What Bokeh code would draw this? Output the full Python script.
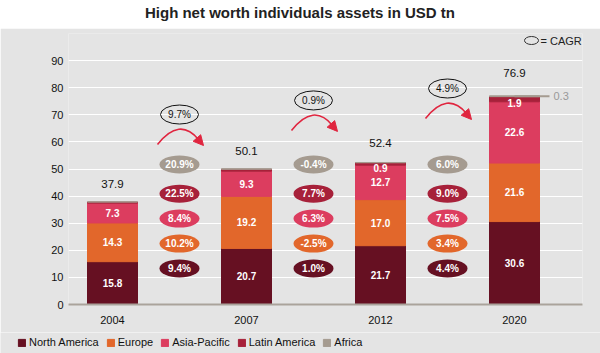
from bokeh.plotting import figure
from bokeh.models import ColumnDataSource, Range1d, FixedTicker, Div, Arrow, NormalHead
from bokeh.layouts import column
from bokeh.embed import file_html
from bokeh.resources import INLINE
from bokeh.core.properties import value

# ---------------- data ----------------
years = ["2004", "2007", "2012", "2020"]
north_america = [15.8, 20.7, 21.7, 30.6]
europe = [14.3, 19.2, 17.0, 21.6]
asia_pacific = [7.3, 9.3, 12.7, 22.6]
latin_america = [0.4, 0.7, 0.9, 1.9]
africa = [0.1, 0.2, 0.1, 0.3]
totals = [37.9, 50.1, 52.4, 76.9]
la_label_shown = [False, False, True, True]
af_label_shown = [False, False, False, True]

periods = ["2004-2007", "2007-2012", "2012-2020"]
cagr_total = [9.7, 0.9, 4.9]
cagr_north_america = [9.4, 1.0, 4.4]
cagr_europe = [10.2, -2.5, 3.4]
cagr_asia_pacific = [8.4, 6.3, 7.5]
cagr_latin_america = [22.5, 7.7, 9.0]
cagr_africa = [20.9, -0.4, 6.0]

regions = ["North America", "Europe", "Asia-Pacific", "Latin America", "Africa"]
colors = ["#661022", "#e2672b", "#dc3d5f", "#a7213a", "#a59b90"]
y_ticks = [0, 10, 20, 30, 40, 50, 60, 70, 80, 90]

# ---------------- layout constants ----------------
FONT = "Liberation Sans"
BG = "#e4e4e4"
RED = "#e0253f"
W, H = 600, 304
BL, BR, BT, BB = 68, 18, 5, 28
FW, FH = W - BL - BR, H - BT - BB
XPX = 1 / 134.0          # data units per px (x)
YPX = 100.0 / FH         # data units per px (y)
X0 = -44 * XPX
BAR_W = 50 * XPX
row_y = [13.3, 22.5, 31.7, 40.9, 51.7]   # rows for regional CAGR ellipses
total_row_y = [70.1, 75.3, 79.7]         # rows for total CAGR ellipses

xs = list(range(len(years)))
mids = [i + 0.5 for i in range(len(periods))]

p = figure(width=W, height=H, output_backend="svg", toolbar_location=None,
           x_range=Range1d(X0, X0 + FW * XPX), y_range=Range1d(0, 100),
           min_border_left=BL, min_border_right=BR, min_border_top=BT,
           min_border_bottom=BB, margin=0)
p.background_fill_color = BG
p.border_fill_color = BG
p.outline_line_color = None

src = ColumnDataSource(dict(x=xs, na=north_america, eu=europe, ap=asia_pacific,
                            la=latin_america, af=africa))
p.vbar_stack(["na", "eu", "ap", "la", "af"], x="x", width=BAR_W, color=colors, source=src)

# segment labels
lx, ly, lt = [], [], []
for i in xs:
    b0 = 0
    for j, vals in enumerate([north_america, europe, asia_pacific, latin_america]):
        v = vals[i]
        mid = b0 + v / 2
        if j < 3:
            lx.append(i); ly.append(mid); lt.append(f"{v:.1f}")
        elif la_label_shown[i]:
            lx.append(i); ly.append(mid - 4 * YPX); lt.append(f"{v:.1f}")
        b0 += v
p.text(lx, ly, lt, text_color="white", text_font=value(FONT), text_font_size="10px",
       text_font_style="bold", text_align="center", text_baseline="middle")

# africa leader label
for i in xs:
    if af_label_shown[i]:
        top = north_america[i] + europe[i] + asia_pacific[i] + latin_america[i] + africa[i]
        yy = top - 0.5 * africa[i]
        p.segment([i], [yy], [i + 35 * XPX], [yy], line_color="#a59b90", line_width=2)
        p.text([i + 39 * XPX], [yy], [f"{africa[i]:.1f}"], text_color="#999999",
               text_font=value(FONT), text_font_size="11px", text_align="left",
               text_baseline="middle")

# totals
tot_off = [18, 18, 19, 23]
p.text(xs, [t + o * YPX for t, o in zip(totals, tot_off)], [f"{t:.1f}" for t in totals],
       text_color="#111111", text_font=value(FONT), text_font_size="11.5px",
       text_align="center", text_baseline="middle")

# regional CAGR ellipses
cagrs = [cagr_north_america, cagr_europe, cagr_asia_pacific, cagr_latin_america, cagr_africa]
ex, ey, ec, et = [], [], [], []
for j, vals in enumerate(cagrs):
    for k, v in enumerate(vals):
        ex.append(mids[k]); ey.append(row_y[j]); ec.append(colors[j]); et.append(f"{v:.1f}%")
p.ellipse(ex, ey, width=40, height=18, width_units="screen", height_units="screen",
          fill_color=ec, line_color=None)
p.text(ex, ey, et, text_color="white", text_font=value(FONT), text_font_size="10px",
       text_font_style="bold", text_align="center", text_baseline="middle")

# total CAGR ellipses + arrows
p.ellipse(mids, total_row_y, width=38, height=19, width_units="screen", height_units="screen",
          fill_color=None, line_color="#111111", line_width=1)
p.text(mids, total_row_y, [f"{v:.1f}%" for v in cagr_total], text_color="#111111",
       text_font=value(FONT), text_font_size="10px", text_align="center", text_baseline="middle")
for mx, my in zip(mids, total_row_y):
    p.quadratic(x0=[mx - 22 * XPX], y0=[my - 30 * YPX], x1=[mx + 19 * XPX], y1=[my - 25 * YPX],
                cx=[mx], cy=[my - 2 * YPX], line_color=RED, line_width=1.6)
    p.add_layout(Arrow(end=NormalHead(size=10, fill_color=RED, line_color=RED),
                       x_start=mx + 17 * XPX, y_start=my - 23 * YPX,
                       x_end=mx + 24 * XPX, y_end=my - 31 * YPX,
                       line_color=RED, line_width=1.6))

# "= CAGR" key
ky = 100 - 7 * YPX
kx = X0 + (531 - 68) * XPX
p.ellipse([kx], [ky], width=14, height=8, width_units="screen", height_units="screen",
          fill_color=None, line_color="#333333", line_width=1)
p.text([kx + 9 * XPX], [ky], ["= CAGR"], text_color="#222222", text_font=value(FONT),
       text_font_size="11px", text_align="left", text_baseline="middle")

# axes
p.xaxis.ticker = FixedTicker(ticks=xs)
p.xaxis.major_label_overrides = {i: y for i, y in zip(xs, years)}
p.xaxis.major_tick_line_color = None
p.xaxis.minor_tick_line_color = None
p.xaxis.major_tick_out = 0
p.xaxis.minor_tick_out = 0
p.xaxis.axis_line_color = "#aaa39b"
p.xaxis.axis_line_width = 2
p.xaxis.major_label_standoff = 11
p.xaxis.major_label_text_font = FONT
p.xaxis.major_label_text_font_size = "11px"
p.xaxis.major_label_text_color = "#111111"

p.yaxis.ticker = FixedTicker(ticks=y_ticks)
p.yaxis.axis_line_color = None
p.yaxis.major_tick_line_color = None
p.yaxis.minor_tick_line_color = None
p.yaxis.major_tick_out = 0
p.yaxis.minor_tick_out = 0
p.yaxis.major_label_standoff = 5
p.yaxis.major_label_text_font = FONT
p.yaxis.major_label_text_font_size = "11px"
p.yaxis.major_label_text_color = "#111111"

p.xgrid.grid_line_color = None
p.ygrid.ticker = FixedTicker(ticks=y_ticks[1:])
p.ygrid.grid_line_color = "white"
p.ygrid.grid_line_width = 1

# legend strip (separate figure so the legend can start at the page's left edge)
leg = figure(width=W, height=21, output_backend="svg", toolbar_location=None,
             x_range=Range1d(0, 1), y_range=Range1d(0, 1), x_axis_type=None,
             y_axis_type=None, min_border=0, margin=0)
leg.frame_align = False
leg.background_fill_color = BG
leg.border_fill_color = BG
leg.outline_line_color = None
leg.xgrid.visible = False
leg.ygrid.visible = False
for name, c in zip(regions, colors):
    # bars placed outside the strip's range: only their legend swatches show
    leg.vbar(x=[5], top=[1], width=0.1, color=c, legend_label=name)
lg = leg.legend[0]
lg.orientation = "horizontal"
lg.location = (17, 5)
lg.background_fill_alpha = 0
lg.border_line_color = None
lg.padding = 0
lg.margin = 0
lg.spacing = 7
lg.label_standoff = 3
lg.glyph_width = 9
lg.glyph_height = 9
lg.label_text_font = FONT
lg.label_text_font_size = "11px"
lg.label_text_color = "#111111"
lg.label_height = 9

title = Div(text="High net worth individuals assets in USD tn", width=W, height=28, margin=0,
            styles={"font-family": FONT, "font-weight": "bold", "font-size": "15px",
                    "text-align": "center", "line-height": "26px", "color": "#222222",
                    "background-color": "white"})

layout = column(title, p, leg, spacing=0, margin=0)
open("out.html", "w").write(file_html(layout, INLINE))
